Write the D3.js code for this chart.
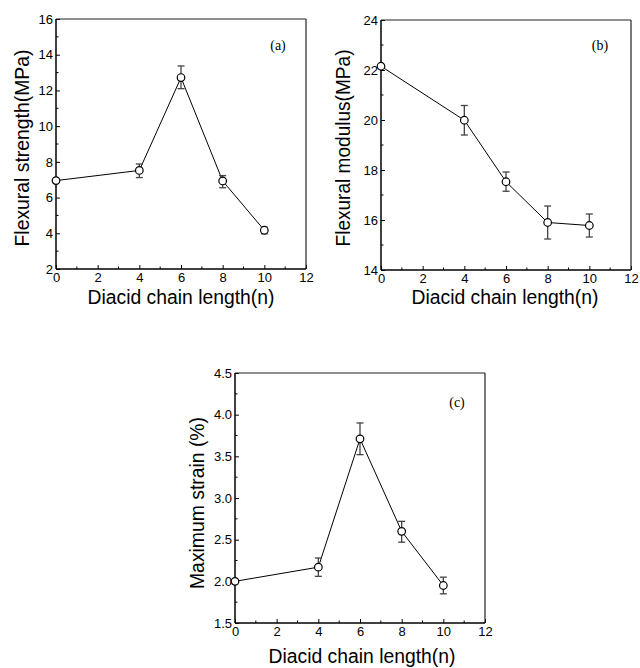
<!DOCTYPE html>
<html>
<head>
<meta charset="utf-8">
<script src="https://cdn.jsdelivr.net/npm/d3@7"></script>
<style>
  html, body { margin: 0; padding: 0; background: #fff; }
  svg { display: block; }
</style>
</head>
<body>
<svg id="chart" width="640" height="668"></svg>
<script>
// ---------------- data ----------------
const chainLength = [0, 4, 6, 8, 10];

const strength      = [6.95, 7.52, 12.72, 6.93, 4.17];
const strengthErrUp = [0, 0.36, 0.65, 0.30, 0.17];
const strengthErrDn = [0, 0.40, 0.62, 0.38, 0.20];

const modulus      = [22.15, 19.99, 17.53, 15.9, 15.78];
const modulusErrUp = [0, 0.59, 0.39, 0.66, 0.46];
const modulusErrDn = [0, 0.59, 0.38, 0.66, 0.46];

const strain      = [2.0, 2.17, 3.71, 2.6, 1.95];
const strainErrUp = [0, 0.11, 0.19, 0.12, 0.10];
const strainErrDn = [0, 0.11, 0.19, 0.13, 0.10];

const xTicks = [0, 2, 4, 6, 8, 10, 12];
const yTicksA = [2, 4, 6, 8, 10, 12, 14, 16];
const yTicksB = [14, 16, 18, 20, 22, 24];
const yTicksC = [1.5, 2.0, 2.5, 3.0, 3.5, 4.0, 4.5];

const xTitle = "Diacid chain length(n)";

const panels = [
  { label: "(a)", yTitle: "Flexural strength(MPa)", values: strength, up: strengthErrUp, dn: strengthErrDn,
    yDomain: [2, 16], yTicks: yTicksA, yMinor: 1, fmt: d3.format("d"),
    left: 56, top: 19, labelX: 278, labelY: 50, yTitleLen: 197, yTitleX: 29, yTitleY: 148,
    xTitleX: 181, xTitleY: 304 },
  { label: "(b)", yTitle: "Flexural modulus(MPa)", values: modulus, up: modulusErrUp, dn: modulusErrDn,
    yDomain: [14, 24], yTicks: yTicksB, yMinor: 1, fmt: d3.format("d"),
    left: 381, top: 20, labelX: 600, labelY: 50, yTitleLen: 197, yTitleX: 350, yTitleY: 148,
    xTitleX: 505, xTitleY: 304 },
  { label: "(c)", yTitle: "Maximum strain (%)", values: strain, up: strainErrUp, dn: strainErrDn,
    yDomain: [1.5, 4.5], yTicks: yTicksC, yMinor: 0.25, fmt: d3.format(".1f"),
    left: 235, top: 373, labelX: 457, labelY: 407, yTitleLen: 172, yTitleX: 204, yTitleY: 503,
    xTitleX: 362, xTitleY: 663 }
];

const size = 250;
const svg = d3.select("#chart");

panels.forEach(p => {
  const g = svg.append("g").attr("transform", `translate(${p.left},${p.top})`);
  const x = d3.scaleLinear().domain([0, 12]).range([0, size]);
  const y = d3.scaleLinear().domain(p.yDomain).range([size, 0]);

  // minor ticks
  const xMinor = d3.range(1, 12, 2);
  g.selectAll(".xminor").data(xMinor).enter().append("line")
    .attr("x1", d => x(d)).attr("x2", d => x(d))
    .attr("y1", size).attr("y2", size - 2.5)
    .attr("stroke", "#000").attr("stroke-width", 1);
  const yMinorVals = d3.range(p.yDomain[0] + p.yMinor, p.yDomain[1], p.yMinor * 2);
  g.selectAll(".yminor").data(yMinorVals).enter().append("line")
    .attr("x1", 0).attr("x2", 2.5)
    .attr("y1", d => y(d)).attr("y2", d => y(d))
    .attr("stroke", "#000").attr("stroke-width", 1);

  // axes with inward ticks
  const xAxis = g.append("g").attr("transform", `translate(0,${size})`)
    .call(d3.axisBottom(x).tickValues(xTicks).tickSize(-4).tickPadding(7).tickFormat(d3.format("d")));
  const yAxis = g.append("g")
    .call(d3.axisLeft(y).tickValues(p.yTicks).tickSize(-4).tickPadding(7).tickFormat(p.fmt));
  [xAxis, yAxis].forEach(a => {
    a.select(".domain").remove();
    a.selectAll(".tick line").attr("stroke", "#000").attr("stroke-width", 1);
    a.selectAll(".tick text").attr("font-family", "Liberation Sans, Arial, sans-serif")
      .attr("font-size", 13).attr("fill", "#000");
  });
  xAxis.selectAll(".tick text").attr("y", 4).attr("dy", "0.71em");
  yAxis.selectAll(".tick text").attr("x", -3);

  // frame
  g.append("line").attr("x1", 0).attr("x2", size).attr("y1", 0).attr("y2", 0)
    .attr("stroke", "#222").attr("stroke-width", 1.2);
  g.append("line").attr("x1", size).attr("x2", size).attr("y1", 0).attr("y2", size)
    .attr("stroke", "#222").attr("stroke-width", 1.2);
  g.append("line").attr("x1", 0).attr("x2", 0).attr("y1", 0).attr("y2", size)
    .attr("stroke", "#000").attr("stroke-width", 1.5);
  g.append("line").attr("x1", 0).attr("x2", size).attr("y1", size).attr("y2", size)
    .attr("stroke", "#000").attr("stroke-width", 1.5);

  const pts = chainLength.map((n, i) => ({ n, v: p.values[i], up: p.up[i], dn: p.dn[i] }));

  // line
  g.append("path").datum(pts)
    .attr("d", d3.line().x(d => x(d.n)).y(d => y(d.v)))
    .attr("fill", "none").attr("stroke", "#000").attr("stroke-width", 1);

  // error bars
  const eb = g.selectAll(".eb").data(pts.filter(d => d.up > 0 || d.dn > 0)).enter().append("g");
  eb.append("line").attr("x1", d => x(d.n)).attr("x2", d => x(d.n))
    .attr("y1", d => y(d.v + d.up)).attr("y2", d => y(d.v - d.dn))
    .attr("stroke", "#444").attr("stroke-width", 1.3);
  eb.append("line").attr("x1", d => x(d.n) - 3.5).attr("x2", d => x(d.n) + 3.5)
    .attr("y1", d => y(d.v + d.up)).attr("y2", d => y(d.v + d.up))
    .attr("stroke", "#444").attr("stroke-width", 1.3);
  eb.append("line").attr("x1", d => x(d.n) - 3.5).attr("x2", d => x(d.n) + 3.5)
    .attr("y1", d => y(d.v - d.dn)).attr("y2", d => y(d.v - d.dn))
    .attr("stroke", "#444").attr("stroke-width", 1.3);

  // markers
  g.selectAll(".pt").data(pts).enter().append("circle")
    .attr("cx", d => x(d.n)).attr("cy", d => y(d.v)).attr("r", 3.8)
    .attr("fill", "#fff").attr("stroke", "#000").attr("stroke-width", 1.2);

  // panel label
  svg.append("text").attr("x", p.labelX).attr("y", p.labelY)
    .attr("text-anchor", "middle")
    .attr("font-family", "Liberation Serif, Times New Roman, serif")
    .attr("font-size", 14).text(p.label);

  // x title
  svg.append("text").attr("x", p.xTitleX).attr("y", p.xTitleY)
    .attr("text-anchor", "middle")
    .attr("font-family", "Liberation Sans, Arial, sans-serif")
    .attr("font-size", 20)
    .attr("textLength", 187).attr("lengthAdjust", "spacingAndGlyphs")
    .text(xTitle);

  // y title
  svg.append("text")
    .attr("transform", `translate(${p.yTitleX},${p.yTitleY}) rotate(-90)`)
    .attr("text-anchor", "middle")
    .attr("font-family", "Liberation Sans, Arial, sans-serif")
    .attr("font-size", 20)
    .attr("textLength", p.yTitleLen).attr("lengthAdjust", "spacingAndGlyphs")
    .text(p.yTitle);
});
</script>
</body>
</html>
